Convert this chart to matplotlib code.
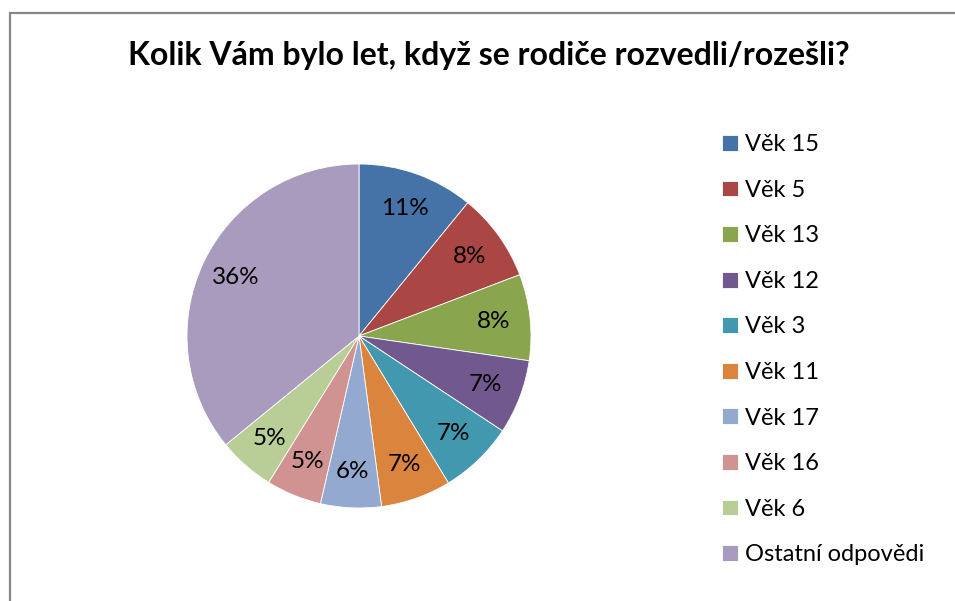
import matplotlib
matplotlib.use("Agg")
import matplotlib.pyplot as plt
from matplotlib.patches import Rectangle

plt.rcParams['font.family'] = ['Lato', 'DejaVu Sans']

labels = ['Věk 15', 'Věk 5', 'Věk 13', 'Věk 12', 'Věk 3', 'Věk 11',
          'Věk 17', 'Věk 16', 'Věk 6', 'Ostatní odpovědi']
values = [10.9, 8.3, 8.1, 7.0, 7.0, 6.6, 5.7, 5.2, 5.3, 35.9]
colors = ['#4572a7', '#aa4643', '#89a54e', '#71588f', '#4198af',
          '#db843d', '#93a9cf', '#d19392', '#b9cd96', '#a99bbd']

W, H = 955, 601
fig = plt.figure(figsize=(W / 100, H / 100), dpi=100)

# outer chart frame (runs off right/bottom edges)
fig.add_artist(Rectangle((9.5 / W, -0.1), 1.2, 1 - 12.5 / H + 0.1,
                         transform=fig.transFigure, fill=False,
                         edgecolor='#878787', lw=1.6))

fig.text(489 / W, 1 - 55 / H, 'Kolik Vám bylo let, když se rodiče rozvedli/rozešli?',
         ha='center', va='center', fontsize=23, fontweight='bold')

cx, cy, r = 359, 336, 172
ax = fig.add_axes([(cx - r) / W, 1 - (cy + r) / H, 2 * r / W, 2 * r / H])
wedges, _, autotexts = ax.pie(values, colors=colors, startangle=90, counterclock=False,
                              autopct='%.0f%%', pctdistance=0.79,
                              wedgeprops=dict(linewidth=0.6, edgecolor='white'),
                              textprops=dict(fontsize=17.5, color='black'))
ax.set_xlim(-1, 1)
ax.set_ylim(-1, 1)
ax.set_aspect('equal')

leg = fig.legend(wedges, labels, loc='upper left',
                 bbox_to_anchor=(701 / W, 1 - 113 / H), frameon=False,
                 fontsize=17, handlelength=0.65, handleheight=0.65,
                 handletextpad=0.3, labelspacing=1.04)

fig.savefig('out.png', dpi=100)
